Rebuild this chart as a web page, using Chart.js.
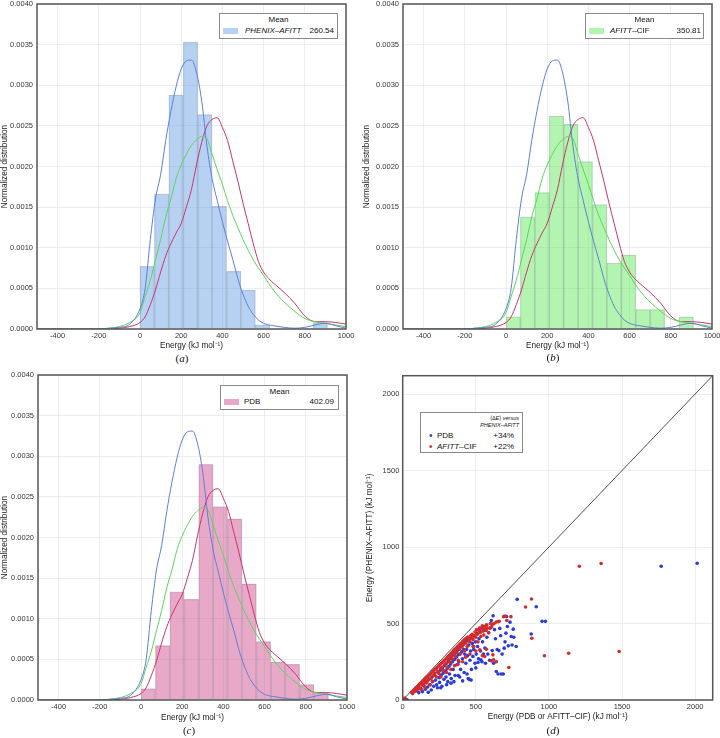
<!DOCTYPE html>
<html>
<head>
<meta charset="utf-8">
<script src="https://cdn.jsdelivr.net/npm/chart.js@4.4.1/dist/chart.umd.min.js"></script>
<style>
body { margin: 0; background: #fff; width: 720px; height: 738px; position: relative; overflow: hidden; font-family: "Liberation Sans", Arial, sans-serif; color: #111; }
canvas { position: absolute; }
.leg { position: absolute; background: #fff; border: 1px solid #8a8a8a; box-sizing: border-box; font-size: 8px; }
.leg span { position: absolute; white-space: nowrap; line-height: 1; }
.sw { position: absolute; width: 15px; height: 6px; }
.cap { position: absolute; font-family: "Liberation Serif", serif; font-size: 11px; transform: translateX(-50%); }
</style>
</head>
<body>

<canvas id="ca" width="360" height="352" style="left:0;top:0"></canvas>
<canvas id="cb" width="358" height="352" style="left:362px;top:0"></canvas>
<canvas id="cc" width="360" height="354" style="left:0;top:371px"></canvas>
<canvas id="cd" width="355" height="354" style="left:365px;top:371px"></canvas>

<div class="leg" style="left:219px;top:13px;width:119px;height:26px">
	<span style="left:0;width:117px;text-align:center;top:2px">Mean</span>
	<div class="sw" style="left:3px;top:14px;background:rgba(111,163,229,0.5)"></div>
	<span style="left:25px;top:13px"><i>PHENIX</i>–<i>AFITT</i></span>
	<span style="right:3px;top:13px">260.54</span>
</div>
<div class="leg" style="left:585px;top:13px;width:119px;height:26px">
	<span style="left:0;width:117px;text-align:center;top:2px">Mean</span>
	<div class="sw" style="left:3px;top:14px;background:rgba(103,235,97,0.5)"></div>
	<span style="left:24px;top:13px"><i>AFITT</i>–CIF</span>
	<span style="right:2px;top:13px">350.81</span>
</div>
<div class="leg" style="left:220px;top:385px;width:119px;height:25px">
	<span style="left:0;width:117px;text-align:center;top:2px">Mean</span>
	<div class="sw" style="left:3px;top:13px;background:rgba(209,83,147,0.5)"></div>
	<span style="left:23px;top:12px">PDB</span>
	<span style="right:4px;top:12px">402.09</span>
</div>
<div class="leg" style="left:420px;top:412px;width:103px;height:41px">
	<span style="right:3px;top:3px;font-size:5.5px">⟨Δ<i>E</i>⟩ <i>versus</i></span>
	<span style="right:3px;top:10px;font-size:5.5px"><i>PHENIX</i>–<i>AFITT</i></span>
	<span style="left:8px;top:18px;color:#2b3bd6;font-size:10px">•</span>
	<span style="left:16px;top:19px">PDB</span>
	<span style="right:8px;top:19px">+34%</span>
	<span style="left:8px;top:29px;color:#d42a2a;font-size:10px">•</span>
	<span style="left:16px;top:30px"><i>AFITT</i>–CIF</span>
	<span style="right:8px;top:30px">+22%</span>
</div>

<div class="cap" style="left:182px;top:352px">(<i>a</i>)</div>
<div class="cap" style="left:553px;top:351px">(<i>b</i>)</div>
<div class="cap" style="left:189px;top:724px">(<i>c</i>)</div>
<div class="cap" style="left:553px;top:724px">(<i>d</i>)</div>

<script>

// histogram bins (kJ/mol)
const binStarts = [ 0, 70, 140, 210, 280, 350, 420, 490, 560, 630, 700, 770, 840 ];
const binWidth = 70;

const phenixHist = [ 0.00077, 0.00166, 0.00288, 0.00353, 0.00264, 0.00151, 0.00071, 0.00048, 0.00005, 0, 0, 0, 0.00008 ];
const afittHist  = [ 0.00015, 0.00138, 0.00168, 0.00262, 0.00252, 0.00206, 0.00153, 0.00081, 0.00091, 0.00024, 0.00024, 0, 0.00015 ];
const pdbHist    = [ 0.00014, 0.00067, 0.00133, 0.00124, 0.0029, 0.00238, 0.00223, 0.00143, 0.00072, 0.00047, 0.00044, 0.00019, 0.0001 ];

// density curves
const kdeX = [ -500, -200, -150, -100, -50, 0, 25, 50, 75, 100, 125, 150, 175, 200, 225, 250, 275, 300, 325, 350, 375, 400, 425, 450, 475, 500, 525, 550, 575, 600, 625, 650, 700, 750, 800, 850, 900, 950, 1000 ];
const kdePhenix = [ 0, 0, 0.00001, 0.00002, 0.00006, 0.00025, 0.0005, 0.0011, 0.0016, 0.0019, 0.00232, 0.00268, 0.00298, 0.0032, 0.0033, 0.00331, 0.00315, 0.0028, 0.00225, 0.00185, 0.00158, 0.00132, 0.00108, 0.00086, 0.00062, 0.00043, 0.00028, 0.00018, 0.00011, 0.00007, 0.00005, 0.00004, 0.00002, 0.00001, 0.00002, 0.00005, 0.00007, 0.00004, 0.00001 ];
const kdeAfitt  = [ 0, 0, 0.00001, 0.00003, 0.00008, 0.0002, 0.0004, 0.0006, 0.00085, 0.0011, 0.00138, 0.0016, 0.00185, 0.00202, 0.00215, 0.00226, 0.00233, 0.00237, 0.00234, 0.00215, 0.00196, 0.00178, 0.00158, 0.0014, 0.00125, 0.0011, 0.00097, 0.00085, 0.00075, 0.00066, 0.00056, 0.00047, 0.00033, 0.00022, 0.00013, 0.00009, 0.00007, 0.00005, 0.00003 ];
const kdePdb    = [ 0, 0, 0, 0.00001, 0.00003, 0.00008, 0.00015, 0.0003, 0.00048, 0.0007, 0.0009, 0.00105, 0.00118, 0.0013, 0.0015, 0.00172, 0.00203, 0.0023, 0.0025, 0.00258, 0.0026, 0.00248, 0.00232, 0.00207, 0.00182, 0.00155, 0.0013, 0.00105, 0.00083, 0.0007, 0.00062, 0.00056, 0.00045, 0.00032, 0.00016, 0.00009, 0.00009, 0.00008, 0.00006 ];

const histXTicks = [ -400, -200, 0, 200, 400, 600, 800, 1000 ];
const scatterTicks = [ 0, 500, 1000, 1500, 2000 ];
const scatterMax = 2120;

// (PDB or AFITT-CIF energy, PHENIX-AFITT energy)
const pdbPoints = [
	[3,4],[12,2],[22,5],[30,1],
	[95,60],[110,48],[125,75],[135,55],[145,95],[155,70],[160,120],[170,85],[175,50],[180,135],[188,100],[195,65],
	[200,150],[205,120],[212,90],[218,165],[225,130],[232,100],[238,80],[242,180],[248,145],[252,115],[258,195],[260,80],
	[262,160],[268,90],[272,210],[276,175],[282,135],[288,225],[292,190],[296,150],[300,240],[300,100],[304,205],[308,120],
	[312,255],[316,220],[320,170],[325,270],[328,235],[330,110],[332,140],[336,285],[340,250],[345,200],[350,300],[350,120],
	[354,265],[358,160],[362,310],[366,280],[370,230],[375,325],[380,295],[380,160],[384,250],[388,335],[390,150],[392,300],
	[396,200],[400,350],[404,315],[408,270],[410,125],[412,360],[416,330],[420,180],[424,300],[428,375],[432,240],[436,330],
	[440,390],[440,170],[444,290],[448,140],[452,360],[455,135],[456,400],[460,260],[464,320],[468,130],[470,200],[472,410],
	[476,370],[480,285],[485,330],[490,420],[494,240],[498,380],[500,210],[503,300],[508,435],[512,350],[515,245],[518,270],
	[522,400],[528,450],[532,320],[535,262],[538,470],[542,250],[546,380],[552,300],[556,460],[562,340],[566,240],[572,490],
	[576,410],[582,300],[588,440],[594,260],[600,470],[606,520],[612,323],[618,550],[622,240],[628,460],[634,400],[640,186],
	[646,330],[652,170],[658,323],[664,468],[670,420],[674,170],[680,300],[688,170],[694,339],[700,380],[706,437],[710,546],
	[716,480],[722,354],[734,509],[742,415],[748,360],[756,463],[760,410],[776,350],
	[783,658],[879,431],[913,610],[953,514],[976,514],[1768,874],[2014,894]
];
const afittPoints = [
	[8,8],[15,12],
	[60,50],[68,42],[75,65],[80,55],[88,78],[92,60],[100,88],[104,72],[110,98],[114,82],[120,108],[124,70],[130,115],[134,96],
	[140,126],[144,104],[150,135],[152,80],[156,120],[160,145],[165,112],[170,152],[174,130],[180,162],[184,100],[190,172],
	[194,142],[200,182],[203,122],[207,190],[211,160],[216,198],[220,176],[225,206],[230,152],[234,212],[239,190],[244,222],
	[249,172],[254,232],[259,206],[260,150],[264,240],[268,216],[273,248],[278,192],[283,258],[288,232],[293,266],[297,242],
	[300,180],[302,276],[306,212],[311,286],[315,262],[320,292],[324,246],[329,302],[330,200],[333,282],[338,312],[342,268],
	[347,322],[351,302],[355,225],[356,332],[360,288],[365,338],[369,312],[374,348],[378,232],[380,260],[383,356],[387,332],
	[392,366],[396,302],[401,372],[405,346],[410,382],[410,250],[414,362],[419,392],[423,322],[428,398],[430,280],[432,372],
	[437,405],[441,350],[446,412],[450,385],[455,400],[460,380],[460,300],[465,420],[470,410],[475,430],[480,395],[481,350],
	[485,350],[490,420],[495,445],[500,410],[500,320],[505,460],[510,430],[515,380],[520,455],[525,470],[527,328],[530,440],
	[535,415],[540,470],[545,485],[545,290],[550,450],[555,425],[560,480],[561,284],[565,460],[570,455],[572,332],[575,490],
	[580,470],[588,440],[595,470],[600,500],[606,256],[608,478],[615,495],[617,295],[622,262],[625,500],[640,510],[640,250],
	[652,512],[660,515],[690,545],[700,548],[712,520],[726,212],[740,545],
	[840,608],[881,660],[883,404],[969,289],[1135,306],[1208,874],[1357,892],[1480,317]
];

const FONT = "'Liberation Sans', Arial, sans-serif";

const framePlugin = {
	id: 'frame',
	afterDraw( chart ) {
		const a = chart.chartArea;
		const c = chart.ctx;
		c.save();
		c.strokeStyle = '#555';
		c.lineWidth = 1.5;
		c.strokeRect( a.left, a.top, a.right - a.left, a.bottom - a.top );
		c.restore();
	}
};

const gridOpts = { color: '#e6e8ea', lineWidth: 0.8, drawTicks: false };
const tickFont = { family: FONT, size: 7.5 };
const titleFont = { family: FONT, size: 8.2 };

// fixed axis box sizes, no extra room for end labels
const fixH = h => s => { s.height = h; s.paddingLeft = 0; s.paddingRight = 0; };
const fixW = w => s => { s.width = w; s.paddingTop = 0; s.paddingBottom = 0; };

function histChart( id, counts, fill, box ) {

	const curve = ( vals, color ) => ( {
		type: 'line',
		data: kdeX.map( ( x, i ) => ( { x: x, y: vals[i] } ) ),
		borderColor: color,
		borderWidth: 1,
		pointRadius: 0,
		cubicInterpolationMode: 'monotone'
	} );

	return new Chart( document.getElementById( id ), {
		type: 'bar',
		data: {
			datasets: [
				curve( kdePhenix, '#5b7fd8' ),
				curve( kdeAfitt, '#5cd45a' ),
				curve( kdePdb, '#c8336a' ),
				{
					data: binStarts.map( ( s, i ) => ( { x: s + binWidth / 2, y: counts[i] } ) ),
					backgroundColor: fill,
					borderColor: 'rgba(70,80,100,0.28)',
					borderWidth: 0.6,
					barPercentage: 1,
					categoryPercentage: 1
				}
			]
		},
		options: {
			responsive: false,
			animation: false,
			layout: { padding: box.pad },
			plugins: { legend: { display: false }, tooltip: { enabled: false } },
			scales: {
				x: {
					type: 'linear',
					min: -500,
					max: 1000,
					offset: false,
					afterBuildTicks: s => { s.ticks = histXTicks.map( v => ( { value: v } ) ); },
					afterFit: fixH( box.xh ),
					grid: Object.assign( { offset: false }, gridOpts ),
					border: { display: false },
					ticks: { font: tickFont, color: '#333', padding: 2, maxRotation: 0, callback: v => String( v ) },
					title: { display: true, text: 'Energy (kJ mol⁻¹)', font: titleFont, color: '#222', padding: { top: 0, bottom: box.tp } }
				},
				y: {
					min: 0,
					max: 0.004,
					afterFit: fixW( box.yw ),
					grid: gridOpts,
					border: { display: false },
					ticks: { stepSize: 0.0005, font: tickFont, color: '#333', padding: 4, callback: v => v.toFixed( 4 ) },
					title: { display: true, text: 'Normalized distribution', font: titleFont, color: '#222', padding: 0 }
				}
			}
		},
		plugins: [ framePlugin ]
	} );
}

histChart( 'ca', phenixHist, 'rgba(111,163,229,0.5)', { pad: { top: 4, right: 14, left: 0, bottom: 0 }, xh: 23, yw: 37, tp: 1.4 } );
histChart( 'cb', afittHist, 'rgba(103,235,97,0.5)', { pad: { top: 4, right: 8, left: 0, bottom: 0 }, xh: 23, yw: 41, tp: 1.4 } );
histChart( 'cc', pdbHist, 'rgba(209,83,147,0.5)', { pad: { top: 4, right: 13, left: 0, bottom: 0 }, xh: 25, yw: 38, tp: 2 } );

const toXY = p => ( { x: p[0], y: p[1] } );

new Chart( document.getElementById( 'cd' ), {
	type: 'scatter',
	data: {
		datasets: [
			{ data: afittPoints.map( toXY ), backgroundColor: '#d42a2a', pointRadius: 1.8, borderWidth: 0 },
			{ data: pdbPoints.map( toXY ), backgroundColor: '#2b3bd6', pointRadius: 1.8, borderWidth: 0 },
			{ data: [ { x: 0, y: 0 }, { x: scatterMax, y: scatterMax } ], showLine: true, borderColor: '#222', borderWidth: 0.8, pointRadius: 0 }
		]
	},
	options: {
		responsive: false,
		animation: false,
		layout: { padding: { top: 4.7, right: 7.3, left: 0, bottom: 0 } },
		plugins: { legend: { display: false }, tooltip: { enabled: false } },
		scales: {
			x: {
				min: 0,
				max: scatterMax,
				afterBuildTicks: s => { s.ticks = scatterTicks.map( v => ( { value: v } ) ); },
				afterFit: fixH( 25 ),
				grid: gridOpts,
				border: { display: false },
				ticks: { font: tickFont, color: '#333', padding: 2, maxRotation: 0, callback: v => String( v ) },
				title: { display: true, text: 'Energy (PDB or AFITT–CIF) (kJ mol⁻¹)', font: titleFont, color: '#222', padding: { top: 0, bottom: 3.4 } }
			},
			y: {
				min: 0,
				max: scatterMax,
				afterBuildTicks: s => { s.ticks = scatterTicks.map( v => ( { value: v } ) ); },
				afterFit: fixW( 37.7 ),
				grid: gridOpts,
				border: { display: false },
				ticks: { font: tickFont, color: '#333', padding: 3.4, callback: v => String( v ) },
				title: { display: true, text: 'Energy (PHENIX–AFITT) (kJ mol⁻¹)', font: titleFont, color: '#222', padding: 0 }
			}
		}
	},
	plugins: [ framePlugin ]
} );

</script>
</body>
</html>
